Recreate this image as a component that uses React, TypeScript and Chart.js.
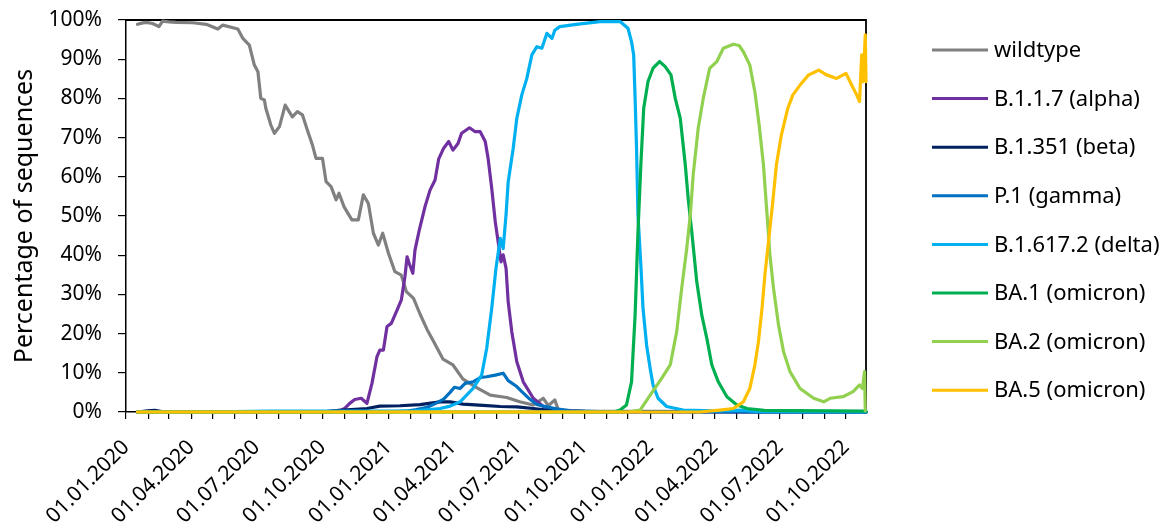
import React, { useEffect, useRef } from "react";
import { Chart, registerables } from "chart.js";

Chart.register(...registerables);

// x = days since 01.01.2020, y = percentage of sequences
const wildtype: [number, number][] = [
  [16, 98.9], [22, 99.2], [28, 99.4], [37, 99.1], [46, 98.3], [51, 99.7], [60, 99.5], [70, 99.4],
  [93, 99.3], [112, 98.9], [128, 97.7], [135, 98.7], [156, 97.7], [163, 95.3], [172, 93.6],
  [179, 88.5], [184, 86.8], [188, 80.0], [193, 79.6], [195, 77.5], [202, 73.2], [207, 71.1],
  [214, 72.8], [222, 78.3], [232, 75.3], [239, 76.6], [246, 75.8], [253, 71.9], [260, 68.1],
  [265, 64.7], [274, 64.7], [279, 58.8], [286, 57.5], [293, 54.1], [297, 55.8], [304, 52.4],
  [315, 49.0], [324, 49.0], [331, 55.4], [338, 53.2], [345, 45.6], [352, 42.6], [358, 45.6],
  [366, 40.5], [375, 35.8], [384, 34.9], [391, 30.7], [401, 29.0], [410, 25.0], [420, 21.0],
  [429, 18.0], [442, 13.5], [456, 12.0], [470, 8.4], [489, 6.2], [508, 4.3], [531, 3.7],
  [549, 2.6], [568, 1.8], [582, 3.5], [589, 1.6], [598, 3.1], [603, 0.5], [640, 0.2], [1032, 0],
];

const alpha: [number, number][] = [
  [16, 0], [280, 0.1], [300, 0.5], [305, 0.9], [312, 2.2], [319, 3.2], [328, 3.5], [336, 2.2],
  [343, 7.3], [350, 14.1], [354, 15.8], [359, 15.8], [364, 21.8], [370, 22.6], [378, 26.0],
  [384, 28.6], [389, 34.5], [392, 39.6], [395, 37.9], [400, 35.4], [403, 41.3], [409, 46.4],
  [417, 52.4], [424, 56.6], [431, 59.2], [436, 64.5], [443, 67.3], [450, 69.0], [456, 66.8],
  [463, 68.5], [468, 71.1], [479, 72.5], [487, 71.5], [494, 71.5], [501, 69.0], [505, 64.7],
  [510, 57.1], [515, 48.5], [519, 43.4], [523, 38.3], [526, 40.1], [530, 36.7], [533, 28.1],
  [538, 20.5], [545, 12.8], [554, 7.7], [568, 3.5], [582, 1.4], [600, 0.5], [640, 0.1], [1032, 0],
];

const beta: [number, number][] = [
  [16, 0], [30, 0.3], [40, 0.4], [50, 0.1], [280, 0.1], [303, 0.5], [336, 0.9], [354, 1.5],
  [382, 1.6], [410, 1.9], [438, 2.6], [452, 2.6], [470, 2.0], [498, 1.7], [522, 1.4],
  [545, 1.3], [568, 0.9], [587, 0.5], [620, 0.1], [1032, 0],
];

const gamma: [number, number][] = [
  [16, 0], [360, 0], [390, 0.2], [405, 0.6], [420, 1.2], [432, 2.2], [443, 3.3], [452, 5.0],
  [458, 6.3], [466, 6.0], [473, 7.3], [484, 7.7], [494, 8.8], [503, 9.0], [515, 9.4],
  [526, 9.9], [533, 8.0], [545, 6.5], [552, 5.2], [563, 3.3], [573, 1.9], [582, 1.5],
  [600, 0.8], [620, 0.3], [660, 0.1], [1032, 0],
];

const delta: [number, number][] = [
  [16, 0], [150, 0.1], [200, 0.2], [280, 0.2], [400, 0.2], [438, 0.9], [452, 1.5], [466, 2.6],
  [484, 6.0], [496, 9.4], [503, 16.2], [510, 26.4], [516, 36.7], [522, 44.3], [526, 41.7],
  [530, 50.3], [533, 58.7], [540, 67.3], [545, 74.9], [552, 80.9], [559, 85.1], [566, 91.1],
  [573, 93.2], [580, 92.8], [587, 96.6], [594, 95.3], [598, 97.4], [605, 98.3], [628, 98.9],
  [661, 99.6], [689, 99.6], [700, 97.9], [705, 94.5], [708, 91.1], [710, 80.0], [712, 67.3],
  [714, 50.3], [718, 37.5], [721, 26.5], [726, 17.1], [731, 11.1], [735, 6.9], [742, 3.5],
  [754, 1.4], [777, 0.5], [820, 0.3], [860, 0.5], [880, 0.1], [1032, 0],
];

const ba1: [number, number][] = [
  [16, 0], [680, 0], [689, 0.5], [698, 1.8], [705, 7.7], [710, 24.7], [714, 46.0], [718, 63.0],
  [722, 77.5], [728, 84.3], [735, 87.7], [744, 89.4], [752, 88.1], [760, 86.0], [766, 80.0],
  [773, 74.9], [780, 63.0], [784, 54.5], [789, 46.0], [796, 33.2], [803, 24.7], [810, 18.8],
  [817, 12.0], [826, 7.7], [838, 3.9], [852, 1.8], [866, 0.9], [890, 0.4], [1032, 0.2],
];

const ba2: [number, number][] = [
  [16, 0], [700, 0], [717, 0.5], [731, 4.3], [747, 8.6], [759, 12.0], [768, 20.5], [775, 31.6],
  [782, 41.7], [787, 50.3], [791, 60.5], [798, 72.4], [805, 80.0], [814, 87.7], [824, 89.4],
  [833, 92.8], [847, 93.8], [855, 93.5], [861, 91.9], [870, 88.5], [877, 81.7], [883, 73.2],
  [889, 63.0], [894, 50.3], [898, 40.1], [903, 31.6], [910, 22.2], [917, 15.4], [926, 10.3],
  [940, 6.0], [959, 3.5], [973, 2.6], [982, 3.5], [1000, 3.9], [1014, 5.2], [1023, 6.9],
  [1027, 6.0], [1030, 10.3], [1031, 0.3],
];

const ba5: [number, number][] = [
  [16, 0], [800, 0], [828, 0.5], [847, 0.9], [861, 2.6], [870, 6.0], [877, 12.0], [882, 17.9],
  [887, 26.5], [891, 35.0], [896, 43.4], [902, 53.6], [907, 63.0], [914, 70.7], [923, 77.5],
  [930, 80.9], [940, 83.4], [952, 86.0], [958, 86.5], [966, 87.2], [977, 86.0], [991, 85.1],
  [1004, 86.4], [1012, 83.4], [1019, 80.9], [1023, 79.2], [1026, 91.1], [1028, 84.3],
  [1031, 96.2], [1032, 84.3],
];

const seriesNames = [
  "wildtype", "B.1.1.7 (alpha)", "B.1.351 (beta)", "P.1 (gamma)",
  "B.1.617.2 (delta)", "BA.1 (omicron)", "BA.2 (omicron)", "BA.5 (omicron)",
];
const seriesData = [wildtype, alpha, beta, gamma, delta, ba1, ba2, ba5];
const seriesColors = [
  "#808080", "#7030A0", "#002060", "#0070C0", "#00B0F0", "#00B050", "#92D050", "#FFC000",
];

const quarterLabels = [
  "01.01.2020", "01.04.2020", "01.07.2020", "01.10.2020",
  "01.01.2021", "01.04.2021", "01.07.2021", "01.10.2021",
  "01.01.2022", "01.04.2022", "01.07.2022", "01.10.2022",
];

const X_MAX = 1032;
const DAY_MS = 86400000;
const ORIGIN = Date.UTC(2020, 0, 1);

function dayOf(y: number, m: number, d: number) {
  return Math.round((Date.UTC(y, m, d) - ORIGIN) / DAY_MS);
}

const monthTicks: number[] = [];
for (let y = 2020; y <= 2022; y++) {
  for (let m = 0; m < 12; m++) {
    const d = dayOf(y, m, 1);
    if (d <= X_MAX) monthTicks.push(d);
  }
}
const labelByDay: Record<number, string> = {};
quarterLabels.forEach((s) => {
  const [dd, mm, yy] = s.split(".").map(Number);
  labelByDay[dayOf(yy, mm - 1, dd)] = s;
});

const FONT = "'Noto Sans', 'Open Sans', sans-serif";

const framePlugin = {
  id: "frame",
  beforeDatasetsDraw(chart: any) {
    const { ctx, chartArea: a } = chart;
    ctx.save();
    ctx.strokeStyle = "#000";
    ctx.lineWidth = 1.8;
    ctx.beginPath();
    ctx.moveTo(a.left, a.top);
    ctx.lineTo(a.right, a.top);
    ctx.lineTo(a.right, a.bottom);
    ctx.stroke();
    ctx.restore();
  },
};

const sideLegendPlugin = {
  id: "sideLegend",
  afterDraw(chart: any) {
    const { ctx, chartArea: a } = chart;
    ctx.save();
    ctx.font = `22px ${FONT}`;
    ctx.textBaseline = "middle";
    ctx.textAlign = "left";
    chart.data.datasets.forEach((ds: any, i: number) => {
      const y = 50 + i * 48.6;
      const x0 = a.right + 66;
      ctx.strokeStyle = ds.borderColor;
      ctx.lineWidth = 3;
      ctx.beginPath();
      ctx.moveTo(x0, y);
      ctx.lineTo(x0 + 56, y);
      ctx.stroke();
      ctx.fillStyle = "#000";
      ctx.fillText(ds.label, x0 + 62, y + 1);
    });
    ctx.restore();
  },
};

export default function App() {
  const ref = useRef<HTMLCanvasElement | null>(null);

  useEffect(() => {
    if (!ref.current) return;
    Chart.defaults.font.family = FONT;
    Chart.defaults.color = "#000";
    const chart = new Chart(ref.current, {
      type: "line",
      data: {
        datasets: seriesData.map((arr, i) => ({
          label: seriesNames[i],
          data: arr.map(([x, y]) => ({ x, y })),
          borderColor: seriesColors[i],
          backgroundColor: seriesColors[i],
          borderWidth: 3.2,
          pointRadius: 0,
          tension: 0,
          fill: false,
          clip: 4,
          borderJoinStyle: "round" as const,
          borderCapStyle: "round" as const,
          order: seriesData.length - i,
        })),
      },
      options: {
        animation: false,
        responsive: true,
        maintainAspectRatio: false,
        layout: { padding: { left: 0, top: 20, right: 303, bottom: 0 } },
        plugins: {
          legend: { display: false },
          tooltip: { enabled: false },
        },
        scales: {
          x: {
            type: "linear",
            min: 0,
            max: X_MAX,
            afterBuildTicks: (scale: any) => {
              scale.ticks = monthTicks.map((v) => ({ value: v }));
            },
            afterFit: (scale: any) => {
              scale.height = 116;
              scale.paddingLeft = 0;
              scale.paddingRight = 0;
            },
            ticks: {
              autoSkip: false,
              minRotation: 45,
              maxRotation: 45,
              padding: 16,
              font: { size: 21 },
              callback: (v: any) => labelByDay[v as number] ?? "",
            },
            grid: {
              drawOnChartArea: false,
              drawTicks: true,
              tickLength: 7,
              color: "#000",
              lineWidth: 1.2,
            },
            border: { display: true, color: "#000", width: 1.5 },
          },
          y: {
            min: 0,
            max: 100,
            afterFit: (scale: any) => {
              scale.width = 126;
              scale.paddingTop = 0;
              scale.paddingBottom = 0;
            },
            ticks: {
              stepSize: 10,
              padding: 16,
              font: { size: 21 },
              callback: (v: any) => `${v}%`,
            },
            title: {
              display: true,
              text: "Percentage of sequences",
              font: { size: 25 },
              padding: { top: 10, bottom: 0 },
            },
            grid: {
              drawOnChartArea: false,
              drawTicks: true,
              tickLength: 8,
              color: "#000",
              lineWidth: 1.2,
            },
            border: { display: true, color: "#000", width: 1.5 },
          },
        },
      },
      plugins: [framePlugin, sideLegendPlugin],
    });
    return () => chart.destroy();
  }, []);

  return (
    <div style={{ position: "absolute", left: 0, top: 0, width: 1169, height: 528, background: "#fff" }}>
      <canvas ref={ref} />
    </div>
  );
}
